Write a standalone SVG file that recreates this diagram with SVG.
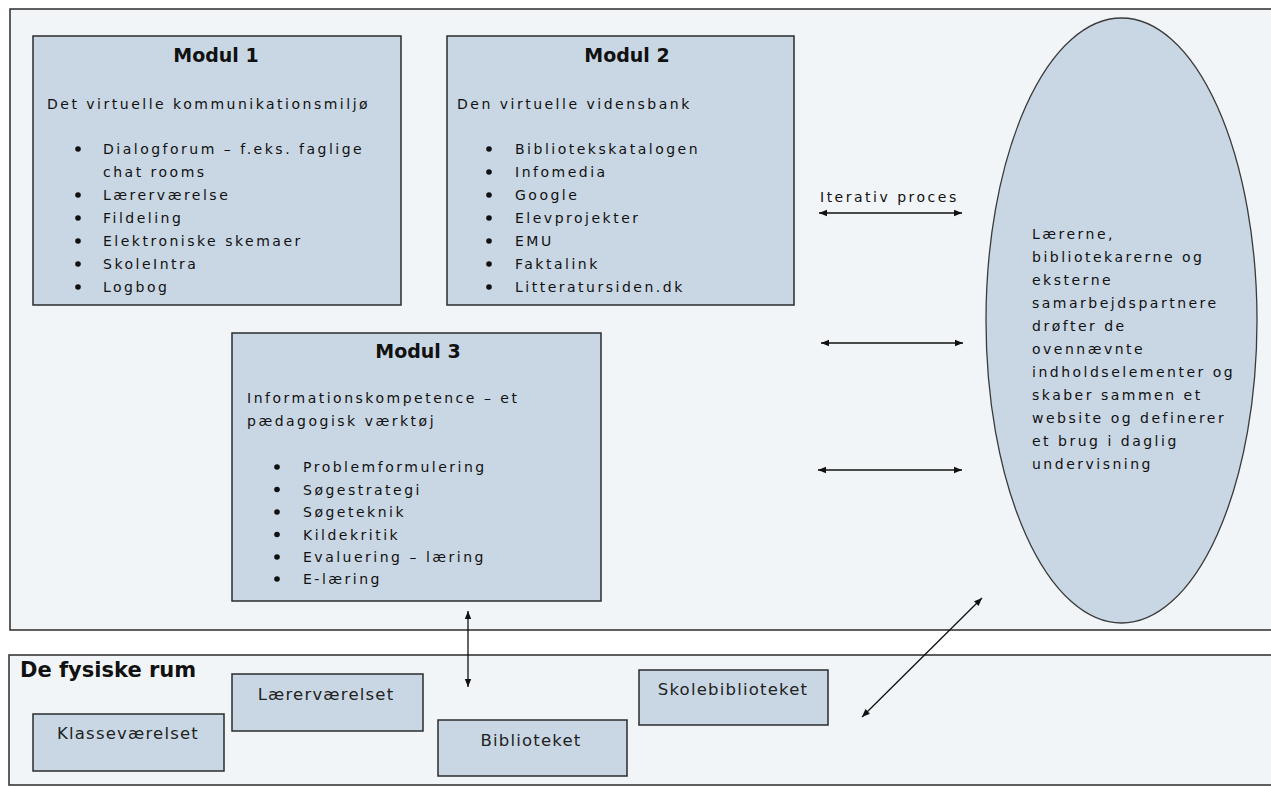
<svg xmlns="http://www.w3.org/2000/svg" width="1271" height="787" viewBox="0 0 1271 787">
<defs>
<style>
.panel{fill:#f2f5f8;stroke:#2b2b2b;stroke-width:1.5}
.box{fill:#c9d7e4;stroke:#2b2b2b;stroke-width:1.5}
.ell{fill:#c9d7e4;stroke:#3a3a3a;stroke-width:1.3}
.title{font-family:"DejaVu Sans",Verdana,sans-serif;font-weight:bold;font-size:19px;fill:#111;text-anchor:middle}
.body{font-family:"DejaVu Sans",Verdana,sans-serif;font-size:14px;letter-spacing:2.5px;fill:#111}
.room{font-family:"DejaVu Sans",Verdana,sans-serif;font-size:16.5px;letter-spacing:1.2px;fill:#222;text-anchor:middle}
.head{font-family:"DejaVu Sans",Verdana,sans-serif;font-weight:bold;font-size:21px;fill:#111}
.dot{fill:#111}
.conn{stroke:#111;stroke-width:1.3;fill:none;marker-start:url(#ah);marker-end:url(#ah)}
</style>
<marker id="ah" viewBox="0 0 10 10" refX="10" refY="5" markerWidth="10" markerHeight="8" markerUnits="userSpaceOnUse" orient="auto-start-reverse">
<path d="M0,1 L10,5 L0,9 z" fill="#111"/>
</marker>
</defs>
<rect width="1271" height="787" fill="#ffffff"/>

<g id="virtual-panel">
<rect class="panel" x="10" y="9" width="1270" height="621"/>
</g>
<g id="physical-panel">
<rect class="panel" x="9" y="655" width="1271" height="130"/>
<text class="head" x="20" y="677">De fysiske rum</text>
</g>

<g id="modul1">
<rect class="box" x="33" y="36" width="368" height="269"/>
<text class="title" x="216" y="62">Modul 1</text>
<text class="body" x="47" y="109">Det virtuelle kommunikationsmiljø</text>
<circle class="dot" cx="78" cy="149" r="2.8"/>
<text class="body" x="103" y="154">Dialogforum – f.eks. faglige</text>
<text class="body" x="103" y="177">chat rooms</text>
<circle class="dot" cx="78" cy="195" r="2.8"/>
<text class="body" x="103" y="200">Lærerværelse</text>
<circle class="dot" cx="78" cy="218" r="2.8"/>
<text class="body" x="103" y="223">Fildeling</text>
<circle class="dot" cx="78" cy="241" r="2.8"/>
<text class="body" x="103" y="246">Elektroniske skemaer</text>
<circle class="dot" cx="78" cy="264" r="2.8"/>
<text class="body" x="103" y="269">SkoleIntra</text>
<circle class="dot" cx="78" cy="287" r="2.8"/>
<text class="body" x="103" y="292">Logbog</text>
</g>

<g id="modul2">
<rect class="box" x="447" y="36" width="347" height="269"/>
<text class="title" x="627" y="62">Modul 2</text>
<text class="body" x="457" y="109">Den virtuelle vidensbank</text>
<circle class="dot" cx="489" cy="149" r="2.8"/>
<text class="body" x="515" y="154">Bibliotekskatalogen</text>
<circle class="dot" cx="489" cy="172" r="2.8"/>
<text class="body" x="515" y="177">Infomedia</text>
<circle class="dot" cx="489" cy="195" r="2.8"/>
<text class="body" x="515" y="200">Google</text>
<circle class="dot" cx="489" cy="218" r="2.8"/>
<text class="body" x="515" y="223">Elevprojekter</text>
<circle class="dot" cx="489" cy="241" r="2.8"/>
<text class="body" x="515" y="246">EMU</text>
<circle class="dot" cx="489" cy="264" r="2.8"/>
<text class="body" x="515" y="269">Faktalink</text>
<circle class="dot" cx="489" cy="287" r="2.8"/>
<text class="body" x="515" y="292">Litteratursiden.dk</text>
</g>

<g id="modul3">
<rect class="box" x="232" y="333" width="369" height="268"/>
<text class="title" x="418" y="358">Modul 3</text>
<text class="body" x="247" y="403">Informationskompetence – et</text>
<text class="body" x="247" y="426">pædagogisk værktøj</text>
<circle class="dot" cx="277" cy="467" r="2.8"/>
<text class="body" x="303" y="472">Problemformulering</text>
<circle class="dot" cx="277" cy="489.5" r="2.8"/>
<text class="body" x="303" y="494.5">Søgestrategi</text>
<circle class="dot" cx="277" cy="512" r="2.8"/>
<text class="body" x="303" y="517">Søgeteknik</text>
<circle class="dot" cx="277" cy="534.5" r="2.8"/>
<text class="body" x="303" y="539.5">Kildekritik</text>
<circle class="dot" cx="277" cy="557" r="2.8"/>
<text class="body" x="303" y="562">Evaluering – læring</text>
<circle class="dot" cx="277" cy="579" r="2.8"/>
<text class="body" x="303" y="584">E-læring</text>
</g>

<g id="actors">
<ellipse class="ell" cx="1121.5" cy="320.5" rx="135.5" ry="302.5"/>
<text class="body" x="1032" y="239">Lærerne,</text>
<text class="body" x="1032" y="262">bibliotekarerne og</text>
<text class="body" x="1032" y="285">eksterne</text>
<text class="body" x="1032" y="308">samarbejdspartnere</text>
<text class="body" x="1032" y="331">drøfter de</text>
<text class="body" x="1032" y="354">ovennævnte</text>
<text class="body" x="1032" y="377">indholdselementer og</text>
<text class="body" x="1032" y="400">skaber sammen et</text>
<text class="body" x="1032" y="423">website og definerer</text>
<text class="body" x="1032" y="446">et brug i daglig</text>
<text class="body" x="1032" y="469">undervisning</text>
</g>

<g id="klassevaerelset">
<rect class="box" x="33" y="714" width="191" height="57"/>
<text class="room" x="128" y="739">Klasseværelset</text>
</g>
<g id="laerervaerelset">
<rect class="box" x="232" y="674" width="191" height="57"/>
<text class="room" x="326" y="700">Lærerværelset</text>
</g>
<g id="biblioteket">
<rect class="box" x="438" y="720" width="189" height="56"/>
<text class="room" x="531" y="746">Biblioteket</text>
</g>
<g id="skolebiblioteket">
<rect class="box" x="639" y="670" width="189" height="55"/>
<text class="room" x="733" y="695">Skolebiblioteket</text>
</g>

<g id="connectors">
<text class="body" x="820" y="202">Iterativ proces</text>
<line class="conn" x1="819" y1="213" x2="962" y2="213"/>
<line class="conn" x1="821" y1="343" x2="963" y2="343"/>
<line class="conn" x1="818" y1="470" x2="962" y2="470"/>
<line class="conn" x1="468" y1="611" x2="468" y2="687"/>
<line class="conn" x1="982" y1="598" x2="862" y2="717"/>
</g>
</svg>
